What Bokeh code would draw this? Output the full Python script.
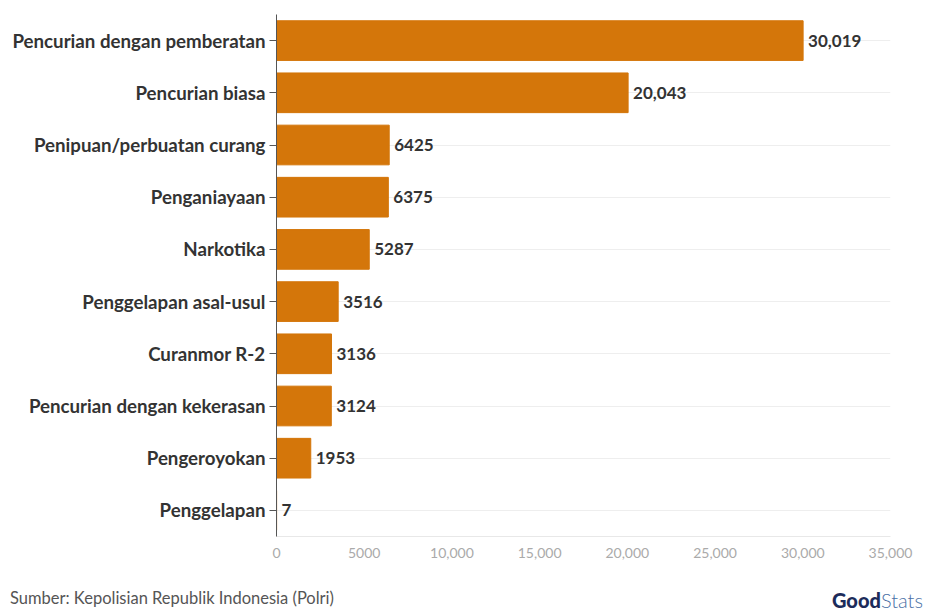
from bokeh.plotting import figure
from bokeh.layouts import column
from bokeh.models import ColumnDataSource, FixedTicker, Div
from bokeh.embed import file_html
from bokeh.resources import INLINE
from bokeh.core.properties import value

categories = ["Pencurian dengan pemberatan", "Pencurian biasa", "Penipuan/perbuatan curang",
              "Penganiayaan", "Narkotika", "Penggelapan asal-usul", "Curanmor R-2",
              "Pencurian dengan kekerasan", "Pengeroyokan", "Penggelapan"]
values = [30019, 20043, 6425, 6375, 5287, 3516, 3136, 3124, 1953, 7]
value_labels = ["30,019", "20,043", "6425", "6375", "5287", "3516", "3136", "3124", "1953", "7"]
x_ticks = [0, 5000, 10000, 15000, 20000, 25000, 30000, 35000]
x_tick_labels = ["0", "5000", "10,000", "15,000", "20,000", "25,000", "30,000", "35,000"]
source_text = "Sumber: Kepolisian Republik Indonesia (Polri)"

FONT = "Lato"
src = ColumnDataSource(dict(cat=categories, val=values, lab=value_labels))

p = figure(width=931, height=575, y_range=list(reversed(categories)), x_range=(0, 35000),
           output_backend="svg", toolbar_location=None,
           min_border_left=276, min_border_right=41, min_border_top=14, min_border_bottom=39)
p.outline_line_color = None
p.background_fill_color = "white"
p.border_fill_color = "white"

p.hbar(y="cat", right="val", height=0.76, source=src, color="#D4760A")
p.text(x="val", y="cat", text="lab", source=src, x_offset=5,
       text_baseline="middle", text_align="left", text_font=value(FONT),
       text_font_style="bold", text_font_size="17px", text_color="#333333")

p.xaxis.ticker = FixedTicker(ticks=x_ticks)
p.xaxis.major_label_overrides = {t: l for t, l in zip(x_ticks, x_tick_labels)}
p.xaxis.axis_line_color = "#e8e8e8"
p.xaxis.major_tick_line_color = None
p.xaxis.minor_tick_line_color = None
p.xaxis.major_label_text_color = "#aaaaaa"
p.xaxis.major_label_text_font = FONT
p.xaxis.major_label_text_font_size = "14px"
p.xaxis.major_label_standoff = 5

p.yaxis.axis_line_color = "#555555"
p.yaxis.major_tick_line_color = "#555555"
p.yaxis.major_tick_out = 7
p.yaxis.major_tick_in = 0
p.yaxis.major_label_text_font = FONT
p.yaxis.major_label_text_font_style = "bold"
p.yaxis.major_label_text_font_size = "18.7px"
p.yaxis.major_label_text_color = "#333333"
p.yaxis.major_label_standoff = 4

p.xgrid.grid_line_color = None
p.ygrid.grid_line_color = "#eeeeee"

footer_html = (
    '<div style="position:relative;width:931px;height:36px;font-family:Lato;background:white;">'
    '<span style="position:absolute;left:10px;bottom:0px;font-size:16.5px;color:#555555;white-space:nowrap;">'
    + source_text +
    '</span>'
    '<span style="position:absolute;left:832px;bottom:0px;font-size:20px;white-space:nowrap;line-height:22px;">'
    '<span style="color:#1c2b5a;font-weight:900;">Good</span>'
    '<span style="color:#4a6fa5;font-weight:300;">Stats</span></span>'
    '</div>'
)
footer = Div(text=footer_html, width=931, height=36, margin=0)

layout = column(p, footer, spacing=0)
open("out.html", "w").write(file_html(layout, INLINE))
